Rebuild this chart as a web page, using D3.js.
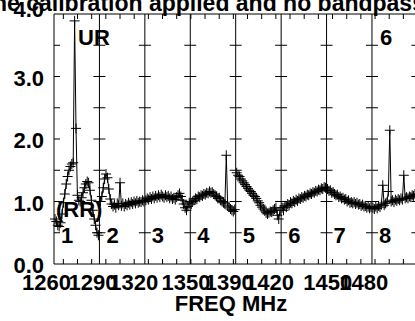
<!DOCTYPE html>
<html>
<head>
<meta charset="utf-8">
<script src="https://cdn.jsdelivr.net/npm/d3@7"></script>
<style>
  body { margin: 0; background: #fff; }
  svg { display: block; }
  text { font-family: "Liberation Sans", Arial, sans-serif; font-weight: bold; fill: #000; }
</style>
</head>
<body>
<div id="chart"></div>
<script>
// IF windows and their labels on the frequency axis
const ifNumbers = [1, 2, 3, 4, 5, 6, 7, 8];
const freqLabels = [1260, 1290, 1320, 1350, 1390, 1420, 1450, 1480];
const ifStartMHz = [1265.5, 1294.7, 1328.1, 1353.1, 1394.7, 1428.4, 1449.1, 1486.0];
const ifWidthMHz = 33;
const freqTicks = [1270, 1280, 1290, 1300, 1310, 1320, 1330, 1340, 1350, 1360, 1370, 1380, 1390,
                   1400, 1410, 1420, 1430, 1440, 1450, 1460, 1470, 1480, 1490, 1500, 1510];
const yLabels = [0, 1, 2, 3, 4];
const yMinor = [0.5, 1, 1.5, 2, 2.5, 3, 3.5];

// amplitude per channel, one array per IF
const amp1 = [0.72, 0.68, 0.62, 0.60, 0.66, 0.80, 0.98, 1.12, 1.28, 1.40, 1.50, 1.56, 1.60, 1.62, 3.89, 2.17,
              1.10, 1.02, 1.00, 1.06, 1.14, 1.22, 1.28, 1.32, 1.30, 1.18, 1.02, 0.86, 0.72, 0.62, 0.50, 0.46];
const amp2 = [1.00, 1.08, 1.22, 1.36, 1.44, 1.38, 1.20, 1.04, 0.96, 0.92, 0.95, 0.90, 0.97, 0.94, 1.30, 0.93,
              0.97, 0.92, 0.96, 0.94, 0.98, 0.95, 0.99, 0.96, 1.00, 0.97, 1.01, 0.98, 1.00, 0.99, 1.02, 1.00];
const amp3 = [1.02, 1.05, 1.03, 1.07, 1.04, 1.08, 1.05, 1.09, 1.06, 1.10, 1.07, 1.11, 1.08, 1.06, 1.10, 1.07,
              1.09, 1.05, 1.08, 1.04, 1.06, 1.03, 1.07, 1.10, 1.13, 1.08, 1.02, 0.96, 0.90, 0.86, 0.92, 0.98];
const amp4 = [0.96, 1.00, 1.02, 1.05, 1.04, 1.08, 1.07, 1.10, 1.09, 1.12, 1.11, 1.14, 1.13, 1.16, 1.14, 1.15,
              1.12, 1.10, 1.08, 1.05, 1.06, 1.02, 1.00, 0.98, 0.96, 1.74, 0.93, 0.91, 0.88, 0.86, 0.84, 0.87];
const amp5 = [1.46, 1.42, 1.40, 1.36, 1.33, 1.30, 1.27, 1.24, 1.21, 1.18, 1.16, 1.13, 1.10, 1.08, 1.05, 1.01,
              0.98, 0.94, 0.91, 0.88, 0.85, 0.82, 0.80, 0.82, 0.84, 0.83, 0.86, 0.88, 0.90, 0.78, 0.72, 0.86];
const amp6 = [0.90, 0.86, 0.93, 0.91, 0.96, 0.94, 0.99, 0.97, 1.01, 0.99, 1.03, 1.01, 1.05, 1.04, 1.07, 1.06,
              1.09, 1.08, 1.11, 1.10, 1.13, 1.12, 1.15, 1.14, 1.17, 1.16, 1.19, 1.18, 1.21, 1.20, 1.23, 1.22];
const amp7 = [1.20, 1.17, 1.18, 1.14, 1.15, 1.12, 1.10, 1.11, 1.07, 1.08, 1.05, 1.06, 1.03, 1.04, 1.00, 1.02,
              0.98, 0.99, 0.97, 0.99, 0.96, 0.98, 0.95, 0.96, 0.93, 0.95, 0.92, 0.93, 0.90, 0.92, 0.89, 0.91];
const amp8 = [0.90, 0.88, 0.92, 0.89, 0.93, 0.91, 0.95, 1.26, 0.94, 0.97, 0.99, 1.16, 2.14, 1.00, 1.02, 0.99,
              1.03, 1.01, 1.04, 1.02, 1.05, 1.03, 1.42, 1.05, 1.07, 1.05, 1.08, 1.07, 1.10, 1.09, 1.12, 1.11];
const spectra = [amp1, amp2, amp3, amp4, amp5, amp6, amp7, amp8];

const width = 415, height = 321;
const margin = {top: 14, left: 54, bottom: 57, right: -2.4};

const svg = d3.select("#chart").append("svg")
    .attr("width", width)
    .attr("height", height)
    .attr("viewBox", [0, 0, width, height]);

const y = d3.scaleLinear()
    .domain([0, 4])
    .range([height - margin.bottom, margin.top]);

const xWin = d3.scaleBand()
    .domain(ifNumbers)
    .range([margin.left, width - margin.right]);
const bw = xWin.bandwidth();

// continuous frequency scale used for the small ticks on top/bottom
const xFreq = d3.scaleLinear()
    .domain([1263.4, 1519.9])
    .range([margin.left, width - margin.right]);

const y0 = y(0), y4 = y(4);
const x0 = margin.left, x1 = width - margin.right;

// frame
const frame = svg.append("g").attr("stroke", "#000").attr("stroke-width", 1).attr("fill", "none");
frame.append("line").attr("x1", x0).attr("x2", x0).attr("y1", y4).attr("y2", y0);
frame.append("line").attr("x1", x0).attr("x2", x1).attr("y1", y0).attr("y2", y0);
frame.append("line").attr("x1", x0).attr("x2", x1).attr("y1", y4).attr("y2", y4);

// IF dividers (right edge of each window) with cross ticks
const dividers = ifNumbers.map(n => xWin(n) + bw);
frame.selectAll(".div")
    .data(dividers)
    .join("line")
    .attr("x1", d => d).attr("x2", d => d)
    .attr("y1", y4).attr("y2", y0);

frame.selectAll(".ytickDiv")
    .data(d3.cross(dividers, yMinor))
    .join("line")
    .attr("x1", ([d]) => d - 6).attr("x2", ([d]) => d + 6)
    .attr("y1", ([, v]) => y(v)).attr("y2", ([, v]) => y(v));

frame.selectAll(".ytickLeft")
    .data(yMinor)
    .join("line")
    .attr("x1", x0).attr("x2", x0 + 6)
    .attr("y1", d => y(d)).attr("y2", d => y(d));

// small frequency ticks on bottom and top
frame.selectAll(".fb")
    .data(freqTicks)
    .join("line")
    .attr("x1", d => xFreq(d)).attr("x2", d => xFreq(d))
    .attr("y1", y0).attr("y2", y0 - 5);
frame.selectAll(".ft")
    .data(freqTicks)
    .join("line")
    .attr("x1", d => xFreq(d)).attr("x2", d => xFreq(d))
    .attr("y1", y4).attr("y2", y4 + 5);

// spectra: line + plus markers, per IF
const plus = "M-5,0H5M0,-5V5";
spectra.forEach((vals, i) => {
    const n = ifNumbers[i];
    const xc = d3.scaleLinear()
        .domain([0, vals.length - 1])
        .range([xWin(n) + 1, xWin(n) + bw - 1]);
    const line = d3.line()
        .x((d, k) => xc(k))
        .y(d => y(d));
    const g = svg.append("g").attr("fill", "none").attr("stroke", "#000").attr("stroke-width", 1);
    g.append("path").attr("d", line(vals));
    g.selectAll("path.m")
        .data(vals)
        .join("path")
        .attr("class", "m")
        .attr("transform", (d, k) => `translate(${xc(k)},${y(d)})`)
        .attr("d", plus);
});

// y labels
svg.append("g")
    .attr("text-anchor", "end")
    .style("font-size", "22px")
    .selectAll("text")
    .data(yLabels)
    .join("text")
    .attr("x", x0 - 10)
    .attr("y", d => d === 4 ? y(d) + 2.5 : y(d) + 9)
    .text(d3.format(".1f"));

// frequency labels, each at its value on its own IF window
svg.append("g")
    .attr("text-anchor", "middle")
    .style("font-size", "22px")
    .selectAll("text")
    .data(ifNumbers)
    .join("text")
    .attr("x", (n, i) => {
        const loc = d3.scaleLinear()
            .domain([ifStartMHz[i], ifStartMHz[i] + ifWidthMHz])
            .range([xWin(n), xWin(n) + bw]);
        return loc(freqLabels[i]);
    })
    .attr("y", y0 + 26)
    .text((n, i) => freqLabels[i]);

// IF numbers inside windows
svg.append("g")
    .style("font-size", "22px")
    .selectAll("text")
    .data(ifNumbers)
    .join("text")
    .attr("x", n => xWin(n) + 7)
    .attr("y", y(0.5) + 10.5)
    .text(n => n);

svg.append("text").attr("x", 231).attr("y", 311).attr("text-anchor", "middle")
    .style("font-size", "22px").text("FREQ MHz");
svg.append("text").attr("x", 78).attr("y", 45).style("font-size", "22px").text("UR");
svg.append("text").attr("x", 380).attr("y", 45).style("font-size", "22px").text("6");
svg.append("text").attr("x", 56).attr("y", 217).style("font-size", "22px").text("(RR)");
svg.append("text").attr("x", -7).attr("y", 10.5).style("font-size", "23px")
    .text("ne calibration applied and no bandpass");
</script>
</body>
</html>
